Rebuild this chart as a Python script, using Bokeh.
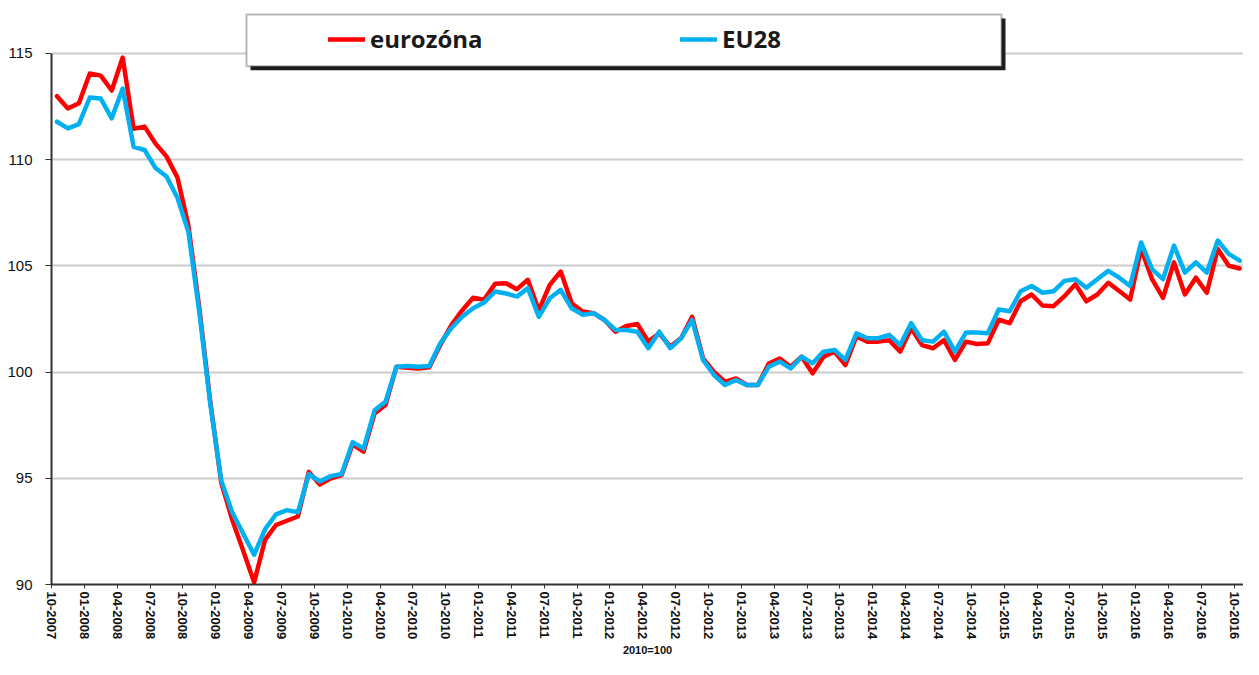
import numpy as np
from bokeh.plotting import figure
from bokeh.models import (Range1d, FixedTicker, Legend, LegendItem,
                          BoxAnnotation, ColumnDataSource)
from bokeh.embed import file_html
from bokeh.resources import INLINE

# ---- data (monthly, 10-2007 ... 10-2016), 2010 = 100 ----
eurozona = [
    112.98, 112.40, 112.65, 114.05, 113.95, 113.25, 114.80, 111.45, 111.55, 110.75,
    110.15, 109.15, 106.90, 103.00, 98.60, 94.80, 93.05, 91.60, 90.10, 92.10,
    92.80, 93.00, 93.20, 95.30, 94.70, 95.00, 95.15, 96.60, 96.25, 98.05,
    98.45, 100.25, 100.20, 100.17, 100.22, 101.27, 102.20, 102.90, 103.50, 103.40,
    104.15, 104.18, 103.90, 104.34, 102.90, 104.10, 104.73, 103.24, 102.85, 102.77,
    102.45, 101.90, 102.17, 102.26, 101.43, 101.82, 101.20, 101.60, 102.60, 100.64,
    100.00, 99.54, 99.70, 99.39, 99.39, 100.40, 100.64, 100.25, 100.72, 99.94,
    100.72, 100.96, 100.33, 101.67, 101.43, 101.43, 101.50, 100.96, 102.06, 101.27,
    101.12, 101.50, 100.57, 101.43, 101.32, 101.35, 102.46, 102.30, 103.33, 103.65,
    103.13, 103.10, 103.57, 104.13, 103.33, 103.65, 104.20, 103.81, 103.41, 105.80,
    104.37, 103.49, 105.16, 103.65, 104.44, 103.73, 105.79, 105.00, 104.87,
]
eu28 = [
    111.78, 111.47, 111.67, 112.92, 112.87, 111.94, 113.34, 110.60, 110.45, 109.60,
    109.20, 108.20, 106.60, 102.80, 98.50, 94.90, 93.40, 92.40, 91.40, 92.60,
    93.30, 93.50, 93.40, 95.20, 94.85, 95.10, 95.20, 96.70, 96.40, 98.20,
    98.60, 100.25, 100.28, 100.25, 100.28, 101.35, 102.06, 102.60, 103.00, 103.27,
    103.79, 103.70, 103.55, 103.95, 102.60, 103.47, 103.87, 103.00, 102.70, 102.77,
    102.45, 101.98, 101.98, 101.90, 101.12, 101.90, 101.12, 101.60, 102.45, 100.57,
    99.86, 99.39, 99.62, 99.39, 99.39, 100.25, 100.49, 100.17, 100.72, 100.41,
    100.96, 101.04, 100.57, 101.82, 101.59, 101.59, 101.75, 101.27, 102.30, 101.50,
    101.43, 101.90, 100.96, 101.86, 101.86, 101.83, 102.94, 102.86, 103.80, 104.05,
    103.73, 103.80, 104.29, 104.37, 103.97, 104.37, 104.76, 104.44, 104.05, 106.10,
    104.84, 104.37, 105.95, 104.68, 105.16, 104.68, 106.19, 105.56, 105.24,
]
tick_labels = [
    "10-2007", "01-2008", "04-2008", "07-2008", "10-2008", "01-2009", "04-2009",
    "07-2009", "10-2009", "01-2010", "04-2010", "07-2010", "10-2010", "01-2011",
    "04-2011", "07-2011", "10-2011", "01-2012", "04-2012", "07-2012", "10-2012",
    "01-2013", "04-2013", "07-2013", "10-2013", "01-2014", "04-2014", "07-2014",
    "10-2014", "01-2015", "04-2015", "07-2015", "10-2015", "01-2016", "04-2016",
    "07-2016", "10-2016",
]
y_ticks = [90, 95, 100, 105, 110, 115]
series_names = ["eurozóna", "EU28"]

# ---- layout constants ----
W, H = 1243, 659
B_LEFT, B_RIGHT, B_TOP, B_BOTTOM = 51, 0, 0, 73
TOP_GAP = 53          # pixels between frame top and the 115 line
N = len(eurozona)
X_END = N - 0.15
Y_MIN, Y_MAX_TICK = 90, 115
FRAME_W = W - B_LEFT - B_RIGHT
FRAME_H = H - B_TOP - B_BOTTOM
px_per_unit = (FRAME_H - TOP_GAP) / (Y_MAX_TICK - Y_MIN)
Y_TOP = Y_MAX_TICK + TOP_GAP / px_per_unit


def fx(px):  # figure pixel -> data x
    return (px - B_LEFT) / FRAME_W * X_END


def fy(py):  # figure pixel -> data y
    return Y_TOP - (py - B_TOP) / px_per_unit


x = np.arange(N) + 0.5
src = ColumnDataSource(dict(x=x, ez=eurozona, eu=eu28))

p = figure(width=W, height=H, output_backend="svg", toolbar_location=None,
           x_range=Range1d(0, X_END), y_range=Range1d(Y_MIN, Y_TOP),
           min_border_left=B_LEFT, min_border_right=B_RIGHT,
           min_border_top=B_TOP, min_border_bottom=B_BOTTOM)
p.outline_line_color = None
p.background_fill_color = "white"
p.border_fill_color = "white"

# legend frame with drop shadow (figure pixel positions of the box)
bx0, bx1, by0, by1 = 246, 1001, 14, 66
shadow = BoxAnnotation(left=fx(bx0 + 4), right=fx(bx1 + 4), top=fy(by0 + 4), bottom=fy(by1 + 4),
                       fill_color="#1e1e1e", fill_alpha=1, line_color=None)
box = BoxAnnotation(left=fx(bx0), right=fx(bx1), top=fy(by0), bottom=fy(by1),
                    fill_color="white", fill_alpha=1, line_color="#111111", line_width=2)
p.add_layout(shadow)
p.add_layout(box)

r1 = p.line("x", "ez", source=src, line_color="#ff0000", line_width=4.5,
            line_join="round", line_cap="round")
r2 = p.line("x", "eu", source=src, line_color="#00b0f0", line_width=4.5,
            line_join="round", line_cap="round")

legend = Legend(items=[LegendItem(label=series_names[0], renderers=[r1]),
                       LegendItem(label=series_names[1], renderers=[r2])],
                orientation="horizontal", location=(267, 519), padding=10, spacing=10,
                label_width=300, glyph_width=37, glyph_height=20, label_standoff=5,
                border_line_alpha=0, background_fill_alpha=0, margin=0,
                label_text_font="Open Sans", label_text_font_style="bold",
                label_text_font_size="24px", label_text_color="#1a1a1a")
p.add_layout(legend, "center")

# x axis
p.xaxis.ticker = FixedTicker(ticks=[3 * k for k in range(len(tick_labels))])
p.xaxis.major_label_overrides = {3 * k: lab for k, lab in enumerate(tick_labels)}
p.xaxis.major_label_orientation = "vertical"
p.xaxis.major_label_text_font = "Liberation Sans"
p.xaxis.major_label_text_font_style = "bold"
p.xaxis.major_label_text_font_size = "13px"
p.xaxis.major_label_text_color = "#111111"
p.xaxis.major_label_standoff = 3
p.xaxis.major_tick_out = 4
p.xaxis.major_tick_in = 0
p.xaxis.minor_tick_line_color = None
p.xaxis.axis_line_color = "#333333"
p.xaxis.axis_line_width = 2
p.xaxis.major_tick_line_color = "#333333"
p.xaxis.axis_label = "2010=100"
p.xaxis.axis_label_text_font = "Liberation Sans"
p.xaxis.axis_label_text_font_style = "bold"
p.xaxis.axis_label_text_font_size = "11px"
p.xaxis.axis_label_text_color = "#111111"
p.xaxis.axis_label_standoff = 2

# y axis
p.yaxis.ticker = FixedTicker(ticks=y_ticks)
p.yaxis.bounds = (Y_MIN, Y_MAX_TICK)
p.yaxis.major_label_text_font = "Liberation Sans"
p.yaxis.major_label_text_font_size = "15px"
p.yaxis.major_label_text_color = "#111111"
p.yaxis.major_label_standoff = 13
p.yaxis.major_tick_out = 6
p.yaxis.major_tick_in = 0
p.yaxis.minor_tick_line_color = None
p.yaxis.axis_line_color = "#333333"
p.yaxis.axis_line_width = 2
p.yaxis.major_tick_line_color = "#333333"

p.xgrid.visible = False
p.ygrid.grid_line_color = "#cccccc"
p.ygrid.grid_line_width = 2

open("out.html", "w").write(file_html(p, INLINE))
